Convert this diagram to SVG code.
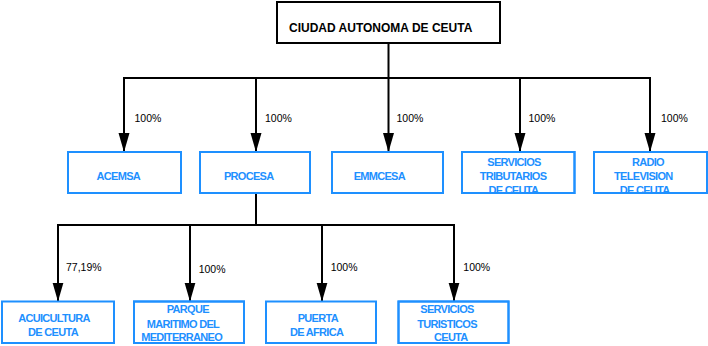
<svg xmlns="http://www.w3.org/2000/svg" width="708" height="346" viewBox="0 0 708 346">
<defs>
<marker id="arr" markerUnits="userSpaceOnUse" markerWidth="20" markerHeight="12" refX="19" refY="5.5" orient="auto">
<path d="M0,0 L19,5.5 L0,11 z" fill="#000"/>
</marker>
<style>
.root rect{fill:#fff;stroke:#000;stroke-width:2}
.root text{font-family:"Liberation Sans",Arial,sans-serif;font-weight:bold;font-size:12px;fill:#000}
.node rect{fill:#fff;stroke:#1E90FF;stroke-width:2}
.node rect.ov{fill:none}
.node text{font-family:"Liberation Sans",Arial,sans-serif;font-weight:bold;font-size:11px;letter-spacing:-0.7px;fill:#1E90FF;text-anchor:middle}
.conn path{fill:none;stroke:#000;stroke-width:2}
.conn path.a{marker-end:url(#arr)}
.lbl{font-family:"Liberation Sans",Arial,sans-serif;font-size:10.5px;fill:#000}
</style>
</defs>
<rect width="708" height="346" fill="#fff"/>

<g id="connectors" class="conn">
<path d="M388.5,43 V78"/>
<path d="M123,78 H651"/>
<path class="a" d="M124,78 V152"/>
<path class="a" d="M256,78 V152"/>
<path class="a" d="M388.5,78 V152"/>
<path class="a" d="M520,78 V152"/>
<path class="a" d="M650,78 V152"/>
<path d="M256,193 V225"/>
<path d="M57,225 H455"/>
<path class="a" d="M58,225 V301.5"/>
<path class="a" d="M190,225 V301.5"/>
<path class="a" d="M322,225 V301.5"/>
<path class="a" d="M454,225 V301.5"/>
<text class="lbl" x="134.5" y="122">100%</text>
<text class="lbl" x="265" y="122">100%</text>
<text class="lbl" x="396.5" y="122">100%</text>
<text class="lbl" x="528.5" y="122">100%</text>
<text class="lbl" x="661" y="122">100%</text>
<text class="lbl" x="66" y="270.5">77,19%</text>
<text class="lbl" x="198.7" y="272.8">100%</text>
<text class="lbl" x="330.7" y="270.5">100%</text>
<text class="lbl" x="463.3" y="270.5">100%</text>
</g>

<g id="ciudad" class="root">
<rect x="277" y="2" width="223" height="41"/>
<text x="289" y="32">CIUDAD AUTONOMA DE CEUTA</text>
</g>

<g id="acemsa" class="node">
<rect x="68" y="152" width="113" height="41"/>
<text x="118.3" y="179.7">ACEMSA</text>
</g>
<g id="procesa" class="node">
<rect x="200" y="152" width="110" height="41"/>
<text x="248.7" y="179.7">PROCESA</text>
</g>
<g id="emmcesa" class="node">
<rect x="332" y="152" width="111" height="41"/>
<text x="379.3" y="179.7">EMMCESA</text>
</g>
<g id="servicios-tributarios" class="node">
<rect x="462" y="152" width="112.5" height="41"/>
<text x="514" y="165.7">SERVICIOS</text>
<text x="513" y="179.7">TRIBUTARIOS</text>
<text x="513.3" y="193.5">DE CEUTA</text>
<rect class="ov" x="462" y="152" width="112.5" height="41"/>
</g>
<g id="radio-television" class="node">
<rect x="594" y="152" width="113" height="41"/>
<text x="648" y="165.7">RADIO</text>
<text x="643.3" y="179.7">TELEVISION</text>
<text x="644.6" y="193.5">DE CEUTA</text>
<rect class="ov" x="594" y="152" width="113" height="41"/>
</g>

<g id="acuicultura" class="node">
<rect x="2" y="301.5" width="112" height="41.5"/>
<text x="54" y="321.7">ACUICULTURA</text>
<text x="53" y="335.7">DE CEUTA</text>
</g>
<g id="parque-maritimo" class="node">
<rect x="134" y="301.5" width="110" height="41.5"/>
<text x="187.8" y="313.3">PARQUE</text>
<text x="183" y="328">MARITIMO DEL</text>
<text x="181.6" y="341.3">MEDITERRANEO</text>
<rect class="ov" x="134" y="301.5" width="110" height="41.5"/>
</g>
<g id="puerta-africa" class="node">
<rect x="266" y="301.5" width="110" height="41.5"/>
<text x="317.8" y="321.7">PUERTA</text>
<text x="316.6" y="335.7">DE AFRICA</text>
</g>
<g id="servicios-turisticos" class="node">
<rect x="398.5" y="301.5" width="110" height="41.5"/>
<text x="447" y="313.3">SERVICIOS</text>
<text x="447" y="328">TURISTICOS</text>
<text x="450.8" y="341.3">CEUTA</text>
<rect class="ov" x="398.5" y="301.5" width="110" height="41.5"/>
</g>
</svg>
